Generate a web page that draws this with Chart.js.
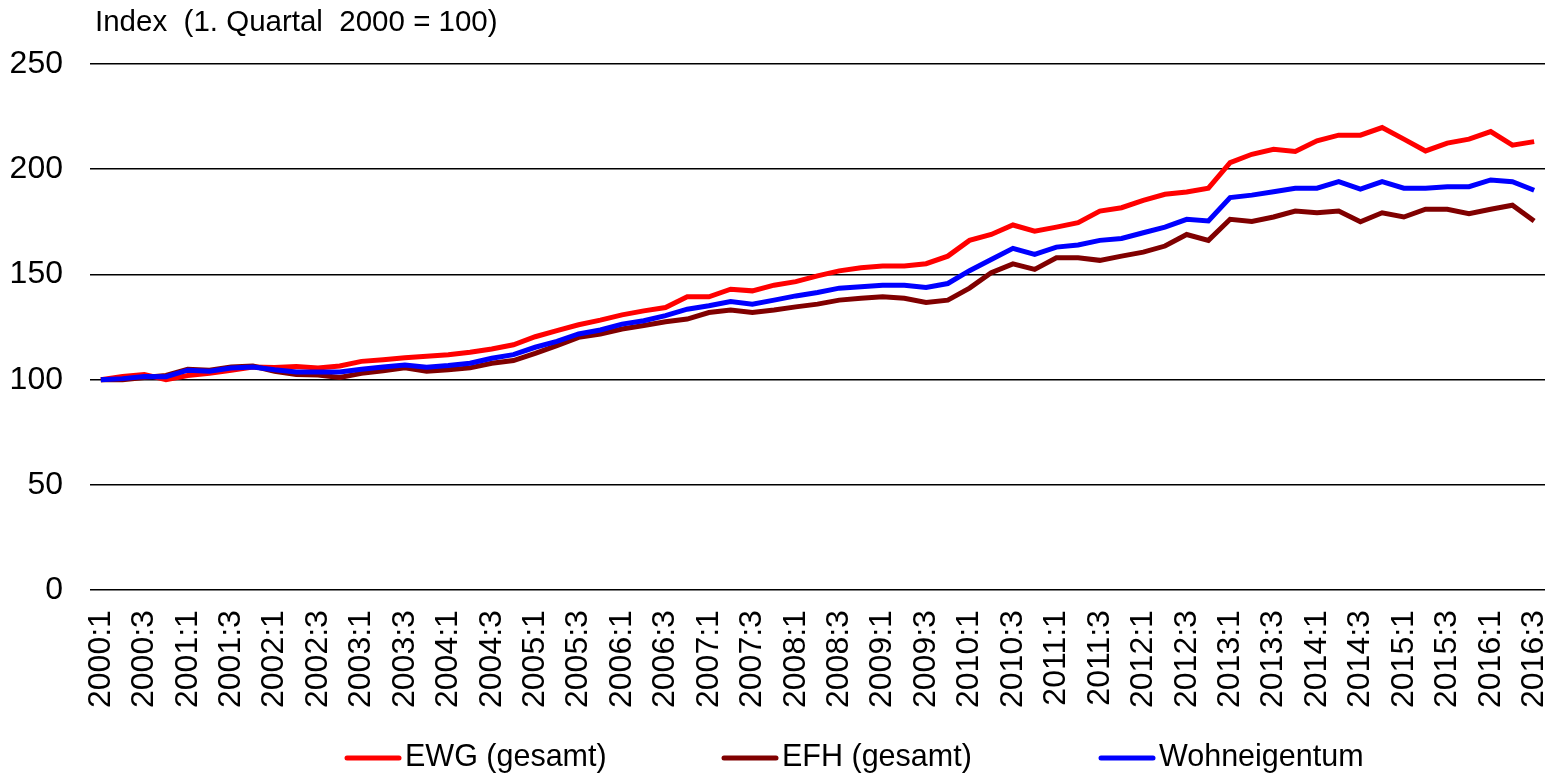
<!DOCTYPE html>
<html>
<head>
<meta charset="utf-8">
<title>Index Wohneigentum</title>
<script src="https://cdn.jsdelivr.net/npm/chart.js@4.4.1/dist/chart.umd.min.js"></script>
<style>
  body { margin: 0; background: #fff; }
  #wrap { width: 1548px; height: 776px; }
</style>
</head>
<body>
<div id="wrap"><canvas id="chart"></canvas></div>
<script>
// axis title and tick values
const titleText = "Index  (1. Quartal  2000 = 100)";
const yTicks = [0, 50, 100, 150, 200, 250];

// quarters 2000:1 .. 2016:3
const quarters = [];
for (let y = 2000; y <= 2016; y++) {
  for (let q = 1; q <= 4; q++) {
    if (y === 2016 && q > 3) break;
    quarters.push(y + ":" + q);
  }
}

// series values
const ewg = [
  100, 101.5, 102.5, 100, 102, 103, 104.5, 106, 105.8, 106.2,
  105.5, 106.5, 108.7, 109.5, 110.4, 111.1, 111.8, 113, 114.6, 116.6,
  120.4, 123.3, 126.1, 128.3, 130.8, 132.7, 134.3, 139.4, 139.4, 143,
  142.2, 144.9, 146.6, 149.3, 151.7, 153.2, 154, 154, 155.1, 158.7,
  166.2, 169, 173.5, 170.6, 172.5, 174.6, 180.1, 181.7, 185.2, 188.1,
  189.2, 191, 203.1, 207.1, 209.5, 208.4, 213.5, 216.2, 216.2, 219.8,
  214.3, 208.7, 212.4, 214.3, 217.9, 211.4, 213.1
];
const efh = [
  100, 100, 101, 102, 105, 104.5, 106, 106.5, 104, 102.5,
  102.2, 101, 103, 104.2, 105.6, 104, 104.7, 105.6, 107.8, 109.1,
  112.5, 116.2, 120.1, 121.7, 124.1, 125.7, 127.5, 128.8, 131.9, 133.1,
  131.9, 133.1, 134.6, 135.9, 137.8, 138.7, 139.4, 138.7, 136.7, 137.8,
  143.5, 150.8, 155, 152.4, 157.9, 157.9, 156.7, 158.7, 160.6, 163.5,
  169, 166.2, 176.2, 175.2, 177.3, 180.1, 179.3, 180.1, 175, 179.3,
  177.3, 181, 181, 178.9, 181, 182.9, 175.4
];
const wohneigentum = [
  100, 100.5, 101.5, 101.4, 104.5, 104, 105.5, 106, 104.7, 103.7,
  103.7, 103.7, 105, 106, 107, 105.9, 106.7, 107.8, 110.2, 111.9,
  115.4, 118.2, 121.7, 123.6, 126.4, 128, 130.4, 133.5, 135.1, 137.1,
  135.9, 137.8, 139.8, 141.4, 143.5, 144.1, 144.9, 144.9, 143.8, 145.7,
  151.8, 157.1, 162.4, 159.5, 163, 164, 166.2, 167.1, 169.8, 172.5,
  176.2, 175.4, 186.5, 187.7, 189.3, 191, 191, 194.1, 190.5, 194.1,
  191, 191, 191.7, 191.7, 194.9, 194.1, 190
];

const FONT = "'Liberation Sans', Arial, sans-serif";

// title above the plot, left aligned with the plot area
const titlePlugin = {
  id: "topTitle",
  afterDraw(chart) {
    const ctx = chart.ctx;
    ctx.save();
    ctx.font = "29.5px " + FONT;
    ctx.fillStyle = "#000";
    ctx.textBaseline = "middle";
    ctx.textAlign = "left";
    ctx.fillText(titleText, chart.chartArea.left + 5, 23);
    ctx.restore();
  }
};

// legend with equal width slots like the original
const legendPlugin = {
  id: "slotLegend",
  afterDraw(chart) {
    const ctx = chart.ctx;
    const y = chart.height - 18;
    ctx.save();
    ctx.font = "30.5px " + FONT;
    ctx.textBaseline = "middle";
    ctx.textAlign = "left";
    chart.data.datasets.forEach((ds, i) => {
      const x = 347 + i * 377;
      ctx.strokeStyle = ds.borderColor;
      ctx.lineWidth = 5;
      ctx.lineCap = "round";
      ctx.beginPath();
      ctx.moveTo(x, y);
      ctx.lineTo(x + 52, y);
      ctx.stroke();
      ctx.fillStyle = "#000";
      ctx.fillText(ds.label, x + 58, y);
    });
    ctx.restore();
  }
};

function makeSet(label, data, color, order) {
  return {
    label: label,
    data: data,
    borderColor: color,
    backgroundColor: color,
    borderWidth: 5,
    pointRadius: 0,
    tension: 0,
    order: order
  };
}

new Chart(document.getElementById("chart"), {
  type: "line",
  data: {
    labels: quarters,
    datasets: [
      makeSet("EWG (gesamt)", ewg, "#ff0000", 3),
      makeSet("EFH (gesamt)", efh, "#800000", 2),
      makeSet("Wohneigentum", wohneigentum, "#0000ff", 1)
    ]
  },
  options: {
    responsive: true,
    maintainAspectRatio: false,
    animation: false,
    layout: { padding: { top: 64, left: 8, right: 3, bottom: 48 } },
    plugins: {
      legend: { display: false },
      tooltip: { enabled: false }
    },
    scales: {
      x: {
        offset: true,
        grid: { display: false, drawTicks: false },
        border: { display: false },
        afterFit: (axis) => {
          axis.paddingLeft = 0;
          axis.paddingRight = 0;
        },
        ticks: {
          autoSkip: false,
          maxRotation: 90,
          minRotation: 90,
          padding: 20,
          color: "#000",
          font: { family: FONT, size: 32 },
          callback: function (val, idx) {
            return idx % 2 === 0 ? this.getLabelForValue(val) : "";
          }
        }
      },
      y: {
        min: 0,
        max: 250,
        afterBuildTicks: (axis) => {
          axis.ticks = yTicks.map((v) => ({ value: v }));
        },
        afterFit: (axis) => {
          axis.width = 82;
        },
        grid: { color: "#000", lineWidth: 1.6, drawTicks: false },
        border: { display: false },
        ticks: {
          padding: 27,
          color: "#000",
          font: { family: FONT, size: 32 }
        }
      }
    }
  },
  plugins: [titlePlugin, legendPlugin]
});
</script>
</body>
</html>
